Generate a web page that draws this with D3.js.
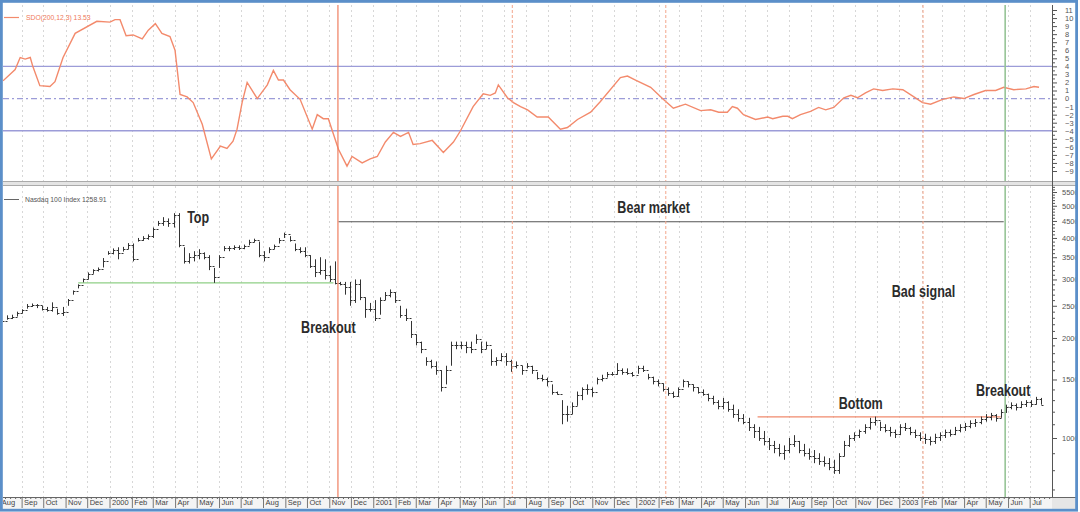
<!DOCTYPE html>
<html><head><meta charset="utf-8">
<script src="https://cdn.jsdelivr.net/npm/d3@7"></script>
<style>body{margin:0;background:#fff}svg{display:block}</style>
</head><body><svg id="c" width="1080" height="512"></svg>
<script>
// ---------------- data ----------------
const startDate = new Date(1999, 7, 2);
const endDate = new Date(2003, 7, 1);

// SDO oscillator, sampled at (fractional) week numbers since startDate
const sdoWeek = [0.6,3.0,4.0,5.0,6.0,6.5,7.9,9.9,10.9,12.5,
14.9,19.2,21.8,22.8,23.8,25.0,26.4,28.2,29.4,30.8,
32.1,33.7,34.7,35.7,37.1,38.3,40.1,41.9,43.7,45.0,
46.2,47.0,48.0,49.0,51.0,53.0,54.2,55.2,56.2,57.5,
59.5,61.9,62.9,64.1,65.1,66.1,67.1,68.8,69.8,71.8,
73.4,74.8,76.4,78.0,79.4,81.0,81.9,83.3,85.7,87.9,
89.9,91.3,93.8,95.8,97.2,98.2,98.8,100.6,101.8,103.2,
104.6,106.5,108.7,111.1,112.5,114.5,117.1,119.0,123.0,124.4,
126.0,129.0,131.5,133.5,135.9,138.9,140.9,142.5,144.2,145.2,
146.2,147.4,149.8,152.2,153.2,155.2,156.2,157.1,158.7,160.7,
162.3,163.7,165.3,167.3,168.7,170.0,171.6,173.2,175.0,177.0,
179.0,181.2,182.9,184.5,186.9,189.1,191.1,193.1,195.4,197.4,
199.0,201.0,203.4,205.0,206.0];
const sdoValue = [2.2,3.6,5.1,4.9,5.1,4.0,1.6,1.5,2.1,5.1,
8.1,9.6,9.5,9.8,9.8,7.8,7.9,7.4,8.5,9.3,
8.1,7.7,6.0,0.5,0.2,-0.5,-3.2,-7.5,-5.9,-6.2,
-5.3,-3.8,-0.5,2.0,0.0,1.7,3.5,2.3,2.3,1.1,
-0.1,-3.8,-2.0,-2.5,-2.5,-4.4,-6.3,-8.4,-7.2,-8.0,
-7.5,-7.2,-5.4,-4.2,-4.7,-4.2,-5.7,-5.6,-5.2,-6.7,
-5.4,-4.0,-1.0,0.6,0.4,0.7,1.7,0.1,-0.5,-1.0,
-1.4,-2.3,-2.3,-3.8,-3.6,-2.6,-1.7,-0.4,2.6,2.8,
2.3,1.4,-0.1,-1.2,-0.7,-1.5,-1.4,-1.7,-1.7,-1.0,
-1.2,-2.0,-2.6,-2.3,-2.5,-2.2,-2.2,-2.5,-2.0,-1.6,
-1.1,-1.4,-1.1,0.1,0.4,0.1,0.7,1.2,1.0,1.2,
1.1,0.2,-0.5,-0.7,-0.1,0.2,0.0,0.5,1.0,1.0,
1.4,1.1,1.2,1.5,1.4];

// Nasdaq 100 weekly bars (week 0 .. 206)
const priceHigh = [2330,2340,2350,2400,2440,2530,2540,2530,2500,2480,
2560,2450,2480,2620,2780,2900,3020,3150,3220,3260,
3480,3650,3720,3750,3760,3860,3850,4000,4050,4100,
4300,4500,4620,4580,4750,4750,3750,3600,3650,3700,
3620,3550,3250,3550,3780,3780,3800,3800,3820,3950,
3980,3900,3650,3750,3820,4000,4150,4050,3850,3750,
3750,3550,3450,3500,3450,3300,3400,2950,2950,2950,
3000,3000,2650,2550,2600,2650,2750,2800,2750,2500,
2450,2250,2050,1950,1750,1720,1700,1600,1650,1950,
1950,1950,1950,1950,2050,1950,1950,1850,1750,1800,
1800,1720,1700,1650,1680,1650,1580,1550,1520,1450,
1380,1300,1250,1280,1380,1420,1450,1420,1520,1550,
1580,1580,1680,1620,1620,1580,1650,1650,1560,1530,
1500,1460,1420,1380,1420,1500,1480,1450,1420,1400,
1360,1340,1300,1320,1290,1260,1220,1180,1150,1100,
1080,1050,1000,980,960,950,1000,1020,980,960,
930,920,900,880,870,860,900,980,1020,1040,
1060,1100,1150,1160,1120,1100,1080,1060,1100,1110,
1080,1060,1040,1030,1010,1030,1040,1060,1060,1080,
1100,1110,1130,1140,1160,1180,1190,1180,1220,1260,
1280,1270,1290,1300,1300,1330,1320];
const priceLow = [2150,2270,2280,2320,2370,2450,2480,2460,2420,2400,
2400,2350,2330,2500,2700,2820,2940,3000,3120,3170,
3260,3560,3570,3450,3640,3700,3400,3900,3920,3950,
4000,4350,4350,4320,4300,3750,3350,3350,3400,3450,
3450,3200,2930,3250,3650,3650,3680,3680,3700,3800,
3880,3500,3400,3600,3700,3850,4000,3900,3650,3600,
3500,3250,3050,3100,3000,2950,2900,2880,2700,2500,
2550,2600,2300,2400,2250,2350,2600,2650,2550,2300,
2250,2000,1900,1800,1650,1620,1550,1380,1450,1650,
1850,1850,1800,1800,1920,1800,1850,1650,1650,1700,
1650,1580,1620,1550,1620,1560,1500,1480,1430,1350,
1350,1100,1120,1180,1250,1300,1350,1330,1450,1480,
1520,1540,1550,1550,1550,1530,1560,1580,1500,1450,
1430,1380,1340,1320,1330,1420,1420,1380,1360,1340,
1290,1260,1220,1220,1200,1150,1120,1100,1050,1000,
980,950,920,900,880,860,900,940,900,880,
860,840,830,820,800,780,780,880,940,980,
1000,1030,1060,1090,1050,1040,1010,1000,1020,1050,
1020,1000,980,960,950,960,980,1000,1010,1020,
1040,1050,1070,1080,1100,1120,1130,1120,1150,1190,
1220,1210,1230,1240,1240,1260,1260];
const priceClose = [2250,2300,2320,2380,2420,2500,2520,2510,2450,2430,
2480,2380,2400,2600,2760,2880,3000,3120,3200,3230,
3420,3600,3680,3600,3700,3820,3450,3950,4000,4050,
4250,4450,4500,4450,4680,3800,3400,3500,3550,3600,
3500,3300,3050,3500,3720,3720,3750,3720,3780,3900,
3950,3550,3500,3700,3780,3950,4100,3950,3700,3650,
3550,3300,3150,3200,3100,3000,2930,2900,2850,2600,
2900,2650,2450,2450,2300,2600,2700,2750,2600,2350,
2300,2050,1950,1850,1700,1650,1600,1420,1600,1900,
1900,1900,1880,1850,1980,1850,1900,1700,1720,1760,
1700,1650,1660,1600,1650,1600,1520,1500,1480,1380,
1360,1180,1180,1250,1350,1400,1400,1380,1500,1520,
1560,1560,1600,1580,1570,1550,1620,1600,1530,1480,
1460,1400,1370,1340,1400,1480,1450,1420,1380,1360,
1320,1280,1250,1280,1220,1180,1150,1120,1080,1050,
1000,980,950,930,900,920,960,980,920,900,
880,870,850,840,820,800,880,950,1000,1020,
1050,1080,1120,1130,1080,1060,1040,1030,1080,1070,
1040,1020,1000,990,980,1010,1020,1040,1030,1060,
1080,1090,1110,1120,1140,1160,1170,1150,1200,1240,
1260,1240,1270,1280,1270,1310,1259];

const sdoTicks = d3.range(-9, 12);
const sdoBands = [4, -4];
const priceTicks = [1000,1500,2000,2500,3000,3500,4000,4500,5000,5500];
const monthNames = ["Jan","Feb","Mar","Apr","May","Jun","Jul","Aug","Sep","Oct","Nov","Dec"];

const eventSolid = ["2000-11-13"];
const eventDashed = ["2001-07-13","2002-02-11","2003-02-03"];
const eventGreen = ["2003-05-28"];

// horizontal reference segments: [startWeek, endWeek, price]
const supportLine = [15.5, 66.1, 2930];
const bearLine = [67.1, 199.0, 4475];
const bottomLine = [150.2, 198.4, 1157];

// annotations: text, week, price (baseline)
const annoText = ["Top","Bear market","Breakout","Bad signal","Bottom","Breakout"];
const annoWeek = [37.1,122.4,59.7,176.8,166.3,193.5];
const annoPrice = [4440,4760,2072,2659,1223,1338];

// ---------------- chart ----------------
const svg = d3.select("#c");
const W = 1080, H = 512;
const plotL = 3, plotR = 1052;
const top1 = 5, bot1 = 181, top2 = 186, bot2 = 497;

const weekDate = w => new Date(startDate.getTime() + w * 7 * 864e5);
const x = d3.scaleTime().domain([startDate, endDate]).range([0, 1052]);
const ySdo = d3.scaleLinear().domain([-9, 11]).range([171, 10]);
const yP = d3.scaleLog().domain([1000, 5500]).range([438, 192]);

svg.append("rect").attr("width", W).attr("height", H).attr("fill", "#fff");

const defs = svg.append("defs");
defs.append("clipPath").attr("id","cp1").append("rect").attr("x",plotL).attr("y",top1).attr("width",plotR-plotL).attr("height",bot1-top1);
defs.append("clipPath").attr("id","cp2").append("rect").attr("x",plotL).attr("y",top2).attr("width",plotR-plotL).attr("height",bot2-top2);
defs.append("clipPath").attr("id","cpAx").append("rect").attr("x",plotR).attr("y",0).attr("width",1076-plotR).attr("height",H);
defs.append("clipPath").attr("id","cpX").append("rect").attr("x",plotL).attr("y",bot2).attr("width",plotR-plotL).attr("height",12);

// x-axis strip
svg.append("rect").attr("x",plotL).attr("y",bot2).attr("width",1076-plotL).attr("height",12).attr("fill","#f4f4f4");
svg.append("rect").attr("x",plotR).attr("y",bot2).attr("width",1076-plotR).attr("height",12).attr("fill","#e6e6e6");

// separator between panels
svg.append("rect").attr("x",plotL).attr("y",bot1).attr("width",1076-plotL).attr("height",top2-bot1).attr("fill","#e4e4e4");
svg.append("line").attr("x1",plotL).attr("x2",1076).attr("y1",bot1+0.5).attr("y2",bot1+0.5).attr("stroke","#aaa");
svg.append("line").attr("x1",plotL).attr("x2",1076).attr("y1",top2-0.5).attr("y2",top2-0.5).attr("stroke","#aaa");

const months = d3.timeMonth.range(new Date(1999,7,1), endDate);

// gridlines
const g1 = svg.append("g").attr("clip-path","url(#cp1)");
const g2 = svg.append("g").attr("clip-path","url(#cp2)");
[[g1,top1,bot1],[g2,top2,bot2]].forEach(([g,t,b]) => {
  g.selectAll("line.grid").data(months).join("line").attr("class","grid")
    .attr("x1", d => Math.round(x(d)) + 0.5).attr("x2", d => Math.round(x(d)) + 0.5)
    .attr("y1", t).attr("y2", b)
    .attr("stroke", "#cdcdcd").attr("stroke-width", 0.8).attr("stroke-dasharray", "2,3");
});

// top panel bands
g1.selectAll("line.band").data(sdoBands).join("line").attr("class","band")
  .attr("x1",plotL).attr("x2",plotR).attr("y1",d=>ySdo(d)).attr("y2",d=>ySdo(d))
  .attr("stroke","#9c9cd8").attr("stroke-width",1.3);
g1.append("line").attr("x1",plotL).attr("x2",plotR).attr("y1",ySdo(0)).attr("y2",ySdo(0))
  .attr("stroke","#9c9cd8").attr("stroke-width",1.2).attr("stroke-dasharray","6,3,2,3");

// event verticals (both panels)
const evG = svg.append("g");
[[top1,bot1],[top2,bot2]].forEach(([t,b]) => {
  eventDashed.forEach(d => {
    const xx = x(new Date(d));
    evG.append("line").attr("x1",xx).attr("x2",xx).attr("y1",t).attr("y2",b)
      .attr("stroke","#f3a68c").attr("stroke-width",1).attr("stroke-dasharray","3,2");
  });
  eventSolid.forEach(d => {
    const xx = x(new Date(d));
    evG.append("line").attr("x1",xx).attr("x2",xx).attr("y1",t).attr("y2",b)
      .attr("stroke","#ef7e60").attr("stroke-width",1.2);
  });
  eventGreen.forEach(d => {
    const xx = x(new Date(d));
    evG.append("line").attr("x1",xx).attr("x2",xx).attr("y1",t).attr("y2",b)
      .attr("stroke","#96c496").attr("stroke-width",1.6);
  });
});

// SDO line
const sdoPts = sdoWeek.map((w,i) => ({d: weekDate(w), v: sdoValue[i]}));
g1.append("path").datum(sdoPts)
  .attr("d", d3.line().x(p => x(p.d)).y(p => ySdo(p.v)))
  .attr("fill","none").attr("stroke","#f38a6c").attr("stroke-width",1.4);

// reference segments in bottom panel
function seg(s, color, w) {
  g2.append("line").attr("x1",x(weekDate(s[0]))).attr("x2",x(weekDate(s[1])))
    .attr("y1",yP(s[2])).attr("y2",yP(s[2])).attr("stroke",color).attr("stroke-width",w);
}
seg(supportLine, "#8fcf86", 1.3);
seg(bearLine, "#555", 1.2);
seg(bottomLine, "#f08a6c", 1.2);

// price bars
const bars = priceClose.map((c,i) => ({
  d: weekDate(i + 0.4), h: priceHigh[i], l: priceLow[i], c: c,
  o: i > 0 ? priceClose[i-1] : c
}));
const bg = g2.append("g").attr("stroke","#333").attr("stroke-width",1);
bars.forEach(b => {
  const xx = Math.round(x(b.d)) + 0.5;
  bg.append("line").attr("x1",xx).attr("x2",xx).attr("y1",yP(b.h)).attr("y2",yP(b.l));
  bg.append("line").attr("x1",xx-2).attr("x2",xx).attr("y1",Math.round(yP(b.o))+0.5).attr("y2",Math.round(yP(b.o))+0.5);
  bg.append("line").attr("x1",xx).attr("x2",xx+2).attr("y1",Math.round(yP(b.c))+0.5).attr("y2",Math.round(yP(b.c))+0.5);
});

// annotations (condensed look: horizontally compressed sans bold)
const annoFont = "'Liberation Sans',Arial,sans-serif";
const squeeze = 0.74;
const annoG = svg.append("g");
annoText.forEach((t,i) => {
  const ax = x(weekDate(annoWeek[i])), ay = yP(annoPrice[i]);
  annoG.append("text")
    .attr("transform", `translate(${ax},${ay}) scale(${squeeze},1)`)
    .attr("font-family",annoFont).attr("font-size",17).attr("font-weight","bold")
    .attr("fill","#2b2b2b").text(t);
});

// legends
svg.append("line").attr("x1",4).attr("x2",19).attr("y1",17.5).attr("y2",17.5).attr("stroke","#f38a6c").attr("stroke-width",1.2);
svg.append("text").attr("x",26).attr("y",20).attr("font-family","'Liberation Sans',Arial,sans-serif").attr("font-size",6.8).attr("fill","#f07a5a").text("SDO(200,12,3) 13.53");
svg.append("line").attr("x1",4).attr("x2",19).attr("y1",199.5).attr("y2",199.5).attr("stroke","#666").attr("stroke-width",1);
svg.append("text").attr("x",25).attr("y",202).attr("font-family","'Liberation Sans',Arial,sans-serif").attr("font-size",6.8).attr("fill","#555").text("Nasdaq 100 Index 1258.91");

// right axes
const axFont = "'Liberation Sans',Arial,sans-serif";
const axG = svg.append("g").attr("clip-path","url(#cpAx)");
const a1 = axG.append("g").attr("transform",`translate(${plotR},0)`)
  .call(d3.axisRight(ySdo).tickValues(sdoTicks).tickSize(5).tickPadding(8).tickFormat(d3.format("d")));
const a1m = axG.append("g").attr("transform",`translate(${plotR},0)`)
  .call(d3.axisRight(ySdo).tickValues(d3.range(-9,11,1).map(v=>v+0.5)).tickSize(3).tickFormat(""));
const minorP = d3.range(700, 5800, 100).filter(v => !priceTicks.includes(v));
const a2 = axG.append("g").attr("transform",`translate(${plotR},0)`)
  .call(d3.axisRight(yP).tickValues(priceTicks).tickSize(5).tickPadding(5).tickFormat(d3.format("d")));
const a2m = axG.append("g").attr("transform",`translate(${plotR},0)`)
  .call(d3.axisRight(yP).tickValues(minorP.filter(v => yP(v) < bot2 && yP(v) > top2)).tickSize(3).tickFormat(""));
[a1,a1m,a2,a2m].forEach(a => {
  a.select(".domain").remove();
  a.selectAll("line").attr("stroke","#555");
  a.selectAll("text").attr("font-family",axFont).attr("font-size",7.5).attr("fill","#555");
});
svg.append("line").attr("x1",plotR+0.5).attr("x2",plotR+0.5).attr("y1",top1).attr("y2",bot2).attr("stroke","#555");

// x axis
const xg = svg.append("g").attr("clip-path","url(#cpX)");
const weeks = d3.timeMonday.range(startDate, endDate);
xg.append("g").attr("transform",`translate(0,${bot2})`)
  .call(d3.axisBottom(x).tickValues(weeks).tickSize(2).tickFormat(""))
  .call(g => { g.select(".domain").remove(); g.selectAll("line").attr("stroke","#666"); });
xg.append("g").attr("transform",`translate(0,${bot2})`)
  .call(d3.axisBottom(x).tickValues(months).tickSize(11)
    .tickFormat(d => d.getMonth() === 0 ? String(d.getFullYear()) : monthNames[d.getMonth()]))
  .call(g => {
    g.select(".domain").remove();
    g.selectAll("line").attr("stroke","#777");
    g.selectAll("text").attr("x",2).attr("y",3).attr("dy","0.71em").attr("text-anchor","start")
      .attr("font-family",axFont).attr("font-size",7.5).attr("fill","#444");
  });
svg.append("line").attr("x1",plotL).attr("x2",1076).attr("y1",bot2+0.5).attr("y2",bot2+0.5).attr("stroke","#666");

// outer frame
svg.append("rect").attr("x",1.4).attr("y",1.4).attr("width",1075.2).attr("height",508.8)
  .attr("fill","none").attr("stroke","#5b8fc9").attr("stroke-width",2.8);
</script></body></html>
